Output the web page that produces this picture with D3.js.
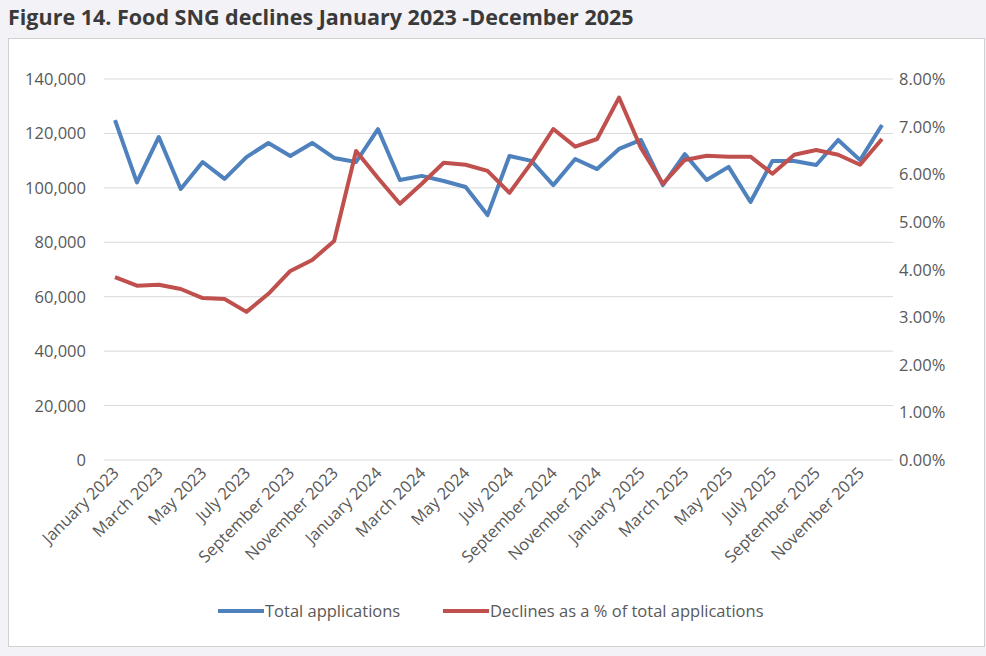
<!DOCTYPE html>
<html>
<head>
<meta charset="utf-8">
<script src="https://cdn.jsdelivr.net/npm/d3@7"></script>
<style>
body { margin: 0; background: #f3f2f7; font-family: "Open Sans", Calibri, "Liberation Sans", sans-serif; }
</style>
</head>
<body>
<div id="chart"></div>
<script>
// Data
var months = ["January 2023","February 2023","March 2023","April 2023","May 2023","June 2023","July 2023","August 2023","September 2023","October 2023","November 2023","December 2023",
  "January 2024","February 2024","March 2024","April 2024","May 2024","June 2024","July 2024","August 2024","September 2024","October 2024","November 2024","December 2024",
  "January 2025","February 2025","March 2025","April 2025","May 2025","June 2025","July 2025","August 2025","September 2025","October 2025","November 2025","December 2025"];
var totalApps = [124900,102000,118700,99600,109500,103300,111300,116500,111700,116500,111000,109500,
  121600,102900,104400,102500,100300,90000,111700,109900,101000,110600,106900,114300,
  117600,101000,112400,102900,107700,94800,109900,109900,108400,117600,110200,123100];
var declinePct = [3.84,3.66,3.68,3.59,3.40,3.38,3.11,3.49,3.97,4.20,4.60,6.49,
  5.92,5.38,5.80,6.24,6.20,6.07,5.61,6.24,6.95,6.58,6.74,7.61,
  6.55,5.80,6.30,6.39,6.37,6.37,6.01,6.41,6.51,6.41,6.20,6.74];
var leftTicks = [0,20000,40000,60000,80000,100000,120000,140000];
var rightTicks = [0,1,2,3,4,5,6,7,8];

var svgWidth = 986, svgHeight = 656;
var margin = {top: 79, right: 104, bottom: 196, left: 115};

var svg = d3.select("#chart").append("svg")
  .attr("width", svgWidth)
  .attr("height", svgHeight);

svg.append("text")
  .attr("x", 8).attr("y", 25)
  .attr("font-size", "21.5px").attr("font-weight", "bold")
  .attr("fill", "#3a3a3a")
  .text("Figure 14. Food SNG declines January 2023 -December 2025");

// white panel
svg.append("rect")
  .attr("x", 8.5).attr("y", 38.5).attr("width", 976).attr("height", 608)
  .attr("fill", "#fff").attr("stroke", "#d0d0d0");

var x = d3.scalePoint().domain(months).range([margin.left, svgWidth - margin.right]);
var y = d3.scaleLinear().domain([0, 140000]).range([svgHeight - margin.bottom, margin.top]);
var y2 = d3.scaleLinear().domain([0, 8]).range([svgHeight - margin.bottom, margin.top]);

var plotL = 104, plotR = 893;

// gridlines
svg.append("g").selectAll("line").data(leftTicks).enter().append("line")
  .attr("x1", plotL).attr("x2", plotR)
  .attr("y1", d => y(d)).attr("y2", d => y(d))
  .attr("stroke", "#d9d9d9").attr("stroke-width", 1);

var tickFont = "16.5px";
svg.append("g").selectAll("text").data(leftTicks).enter().append("text")
  .attr("x", 86).attr("y", d => y(d) + 6)
  .attr("text-anchor", "end").attr("font-size", tickFont).attr("fill", "#595959")
  .text(d => d3.format(",")(d));

svg.append("g").selectAll("text").data(rightTicks).enter().append("text")
  .attr("x", 899).attr("y", d => y2(d) + 6)
  .attr("font-size", tickFont).attr("fill", "#595959")
  .text(d => d.toFixed(2) + "%");

// x labels, every other month
svg.append("g").selectAll("text").data(months.filter((d, i) => i % 2 === 0)).enter().append("text")
  .attr("transform", d => `translate(${x(d) + 5}, ${y(0) + 14}) rotate(-45)`)
  .attr("text-anchor", "end").attr("font-size", tickFont).attr("fill", "#595959")
  .text(d => d);

var blueLine = d3.line().x((d, i) => x(months[i])).y(d => y(d));
var redLine = d3.line().x((d, i) => x(months[i])).y(d => y2(d));

svg.append("path").attr("d", blueLine(totalApps))
  .attr("fill", "none").attr("stroke", "#4f81bd").attr("stroke-width", 4).attr("stroke-linejoin", "round");
svg.append("path").attr("d", redLine(declinePct))
  .attr("fill", "none").attr("stroke", "#c0504d").attr("stroke-width", 4).attr("stroke-linejoin", "round");

// legend
var legend = [{label: "Total applications", color: "#4f81bd", x: 218}, {label: "Declines as a % of total applications", color: "#c0504d", x: 443}];
legend.forEach(function(l) {
  svg.append("line").attr("x1", l.x).attr("x2", l.x + 46).attr("y1", 611).attr("y2", 611)
    .attr("stroke", l.color).attr("stroke-width", 4);
  svg.append("text").attr("x", l.x + 47).attr("y", 617)
    .attr("font-size", tickFont).attr("fill", "#595959").text(l.label);
});
</script>
</body>
</html>
